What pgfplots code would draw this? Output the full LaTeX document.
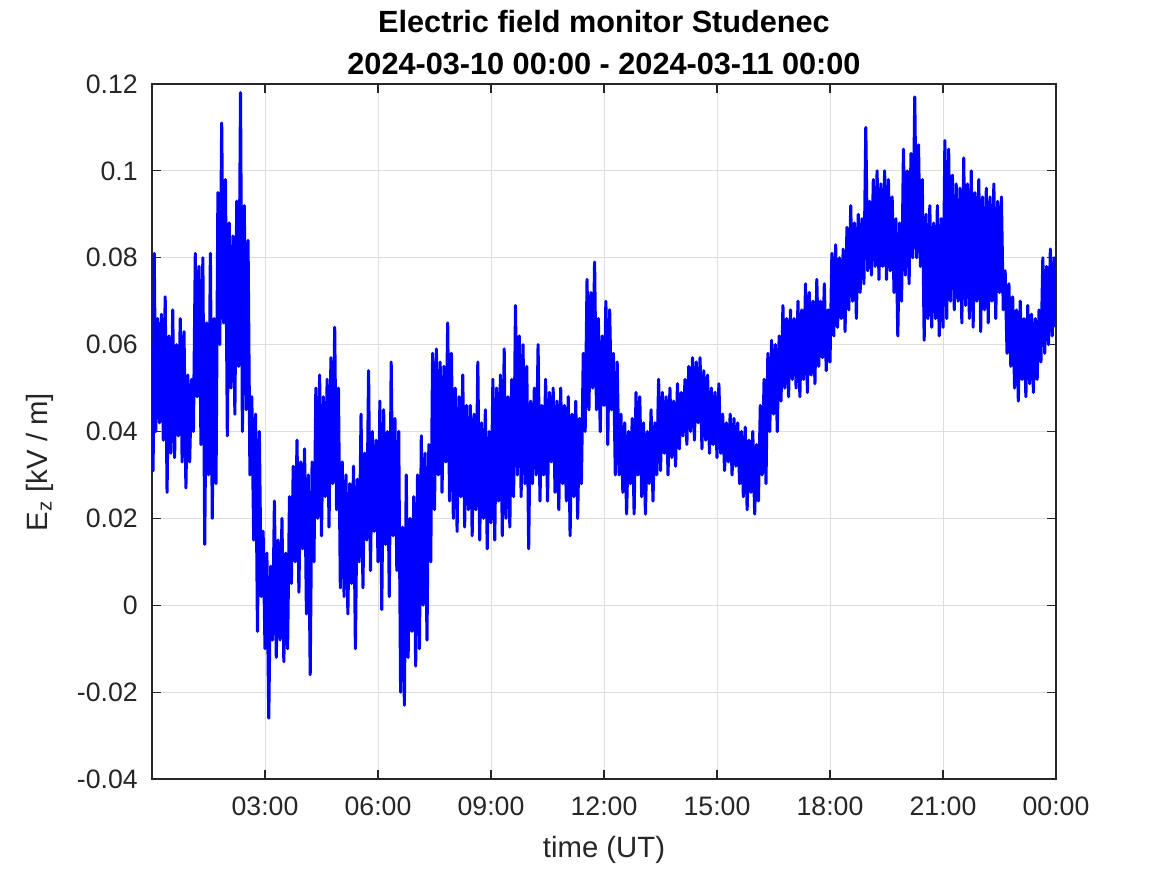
\documentclass[border=0pt]{standalone}
\usepackage{pgfplots}
\pgfplotsset{compat=1.18}
\usepackage{fontspec}
\setmainfont{Liberation Sans}
\definecolor{gridc}{rgb}{0.87,0.87,0.87}
\definecolor{axc}{rgb}{0.15,0.15,0.15}
\pgfplotstableread{
h v
0.00 0.055
0.03 0.031
0.06 0.081
0.10 0.040
0.15 0.066
0.20 0.042
0.25 0.067
0.30 0.038
0.35 0.071
0.40 0.026
0.45 0.062
0.50 0.035
0.55 0.068
0.60 0.034
0.65 0.060
0.70 0.039
0.75 0.066
0.80 0.033
0.85 0.063
0.90 0.027
0.95 0.053
1.00 0.033
1.05 0.052
1.10 0.040
1.15 0.081
1.20 0.048
1.25 0.078
1.30 0.037
1.35 0.080
1.40 0.014
1.45 0.065
1.50 0.030
1.55 0.081
1.60 0.020
1.65 0.066
1.70 0.028
1.75 0.095
1.80 0.060
1.85 0.111
1.90 0.065
1.95 0.098
2.00 0.039
2.05 0.088
2.10 0.050
2.15 0.085
2.20 0.044
2.25 0.093
2.30 0.055
2.35 0.118
2.40 0.040
2.45 0.092
2.50 0.045
2.55 0.084
2.60 0.030
2.65 0.048
2.70 0.015
2.75 0.044
2.80 -0.006
2.85 0.040
2.90 0.002
2.95 0.017
3.00 -0.010
3.05 0.012
3.10 -0.026
3.15 0.009
3.20 -0.008
3.25 0.024
3.30 -0.012
3.35 0.015
3.40 -0.008
3.45 0.020
3.50 -0.013
3.55 0.012
3.60 -0.010
3.65 0.025
3.70 0.005
3.75 0.032
3.80 0.010
3.85 0.038
3.90 0.003
3.95 0.033
4.00 0.013
4.05 0.036
4.10 -0.002
4.15 0.030
4.20 -0.016
4.25 0.033
4.30 0.010
4.35 0.050
4.40 0.020
4.45 0.053
4.50 0.016
4.55 0.048
4.60 0.025
4.65 0.052
4.70 0.018
4.75 0.057
4.80 0.028
4.85 0.064
4.90 0.022
4.95 0.050
5.00 0.004
5.05 0.033
5.10 0.002
5.15 0.030
5.20 -0.002
5.25 0.028
5.30 0.005
5.35 0.032
5.40 -0.010
5.45 0.029
5.50 0.010
5.55 0.044
5.60 0.004
5.65 0.035
5.70 0.015
5.75 0.054
5.80 0.008
5.85 0.040
5.90 0.017
5.95 0.038
6.00 0.010
6.05 0.047
6.10 -0.001
6.15 0.045
6.20 0.014
6.25 0.040
6.30 0.002
6.35 0.056
6.40 0.016
6.45 0.043
6.50 0.008
6.55 0.040
6.60 -0.020
6.65 0.018
6.70 -0.023
6.75 0.030
6.80 -0.012
6.85 0.020
6.90 -0.006
6.95 0.025
7.00 -0.014
7.05 0.030
7.10 -0.010
7.15 0.039
7.20 0.000
7.25 0.035
7.30 -0.008
7.35 0.037
7.40 0.010
7.45 0.058
7.50 0.022
7.55 0.059
7.60 0.030
7.65 0.056
7.70 0.026
7.75 0.055
7.80 0.033
7.85 0.065
7.90 0.024
7.95 0.058
8.00 0.020
8.05 0.050
8.10 0.017
8.15 0.048
8.20 0.025
8.25 0.053
8.30 0.018
8.35 0.046
8.40 0.022
8.45 0.046
8.50 0.016
8.55 0.044
8.60 0.022
8.65 0.056
8.70 0.015
8.75 0.042
8.80 0.020
8.85 0.045
8.90 0.013
8.95 0.040
9.00 0.019
9.05 0.052
9.10 0.015
9.15 0.050
9.20 0.024
9.25 0.053
9.30 0.016
9.35 0.059
9.40 0.020
9.45 0.048
9.50 0.018
9.55 0.052
9.60 0.025
9.65 0.069
9.70 0.030
9.75 0.062
9.80 0.025
9.85 0.060
9.90 0.028
9.95 0.055
10.00 0.013
10.05 0.047
10.10 0.028
10.15 0.050
10.20 0.030
10.25 0.060
10.30 0.024
10.35 0.046
10.40 0.030
10.45 0.052
10.50 0.024
10.55 0.049
10.60 0.033
10.65 0.050
10.70 0.026
10.75 0.047
10.80 0.022
10.85 0.050
10.90 0.028
10.95 0.046
11.00 0.024
11.05 0.048
11.10 0.016
11.15 0.044
11.20 0.025
11.25 0.047
11.30 0.020
11.35 0.043
11.40 0.028
11.45 0.058
11.50 0.040
11.55 0.075
11.60 0.045
11.65 0.072
11.70 0.050
11.75 0.079
11.80 0.045
11.85 0.066
11.90 0.040
11.95 0.062
12.00 0.046
12.05 0.070
12.10 0.037
12.15 0.068
12.20 0.045
12.25 0.058
12.30 0.030
12.35 0.056
12.40 0.030
12.45 0.044
12.50 0.026
12.55 0.042
12.60 0.021
12.65 0.040
12.70 0.028
12.75 0.043
12.80 0.021
12.85 0.049
12.90 0.030
12.95 0.048
13.00 0.025
13.05 0.042
13.10 0.021
13.15 0.040
13.20 0.028
13.25 0.045
13.30 0.024
13.35 0.042
13.40 0.030
13.45 0.052
13.50 0.031
13.55 0.049
13.60 0.035
13.65 0.048
13.70 0.030
13.75 0.050
13.80 0.034
13.85 0.047
13.90 0.032
13.95 0.051
14.00 0.036
14.05 0.049
14.10 0.039
14.15 0.052
14.20 0.037
14.25 0.055
14.30 0.040
14.35 0.057
14.40 0.038
14.45 0.056
14.50 0.042
14.55 0.057
14.60 0.036
14.65 0.054
14.70 0.038
14.75 0.053
14.80 0.035
14.85 0.050
14.90 0.037
14.95 0.049
15.00 0.034
15.05 0.051
15.10 0.035
15.15 0.044
15.20 0.031
15.25 0.042
15.30 0.033
15.35 0.044
15.40 0.030
15.45 0.043
15.50 0.032
15.55 0.042
15.60 0.028
15.65 0.040
15.70 0.025
15.75 0.041
15.80 0.022
15.85 0.038
15.90 0.026
15.95 0.040
16.00 0.021
16.05 0.037
16.10 0.024
16.15 0.046
16.20 0.030
16.25 0.052
16.30 0.028
16.35 0.058
16.40 0.040
16.45 0.061
16.50 0.044
16.55 0.060
16.60 0.040
16.65 0.062
16.70 0.047
16.75 0.069
16.80 0.050
16.85 0.066
16.90 0.048
16.95 0.068
17.00 0.052
17.05 0.066
17.10 0.050
17.15 0.070
17.20 0.048
17.25 0.068
17.30 0.052
17.35 0.074
17.40 0.049
17.45 0.072
17.50 0.053
17.55 0.070
17.60 0.051
17.65 0.075
17.70 0.055
17.75 0.070
17.80 0.057
17.85 0.074
17.90 0.054
17.95 0.068
18.00 0.056
18.05 0.081
18.10 0.062
18.15 0.083
18.20 0.064
18.25 0.080
18.30 0.066
18.35 0.082
18.40 0.063
18.45 0.087
18.50 0.068
18.55 0.092
18.60 0.070
18.65 0.088
18.70 0.066
18.75 0.090
18.80 0.072
18.85 0.089
18.90 0.074
18.95 0.110
19.00 0.077
19.05 0.093
19.10 0.076
19.15 0.098
19.20 0.078
19.25 0.100
19.30 0.075
19.35 0.097
19.40 0.078
19.45 0.100
19.50 0.075
19.55 0.098
19.60 0.077
19.65 0.094
19.70 0.072
19.75 0.089
19.80 0.062
19.85 0.088
19.90 0.070
19.95 0.105
20.00 0.076
20.05 0.100
20.10 0.074
20.15 0.104
20.20 0.080
20.25 0.117
20.30 0.080
20.35 0.106
20.40 0.078
20.45 0.098
20.50 0.061
20.55 0.090
20.60 0.066
20.65 0.092
20.70 0.064
20.75 0.088
20.80 0.066
20.85 0.092
20.90 0.062
20.95 0.089
21.00 0.064
21.05 0.107
21.10 0.066
21.15 0.105
21.20 0.070
21.25 0.099
21.30 0.068
21.35 0.097
21.40 0.070
21.45 0.096
21.50 0.065
21.55 0.103
21.60 0.069
21.65 0.097
21.70 0.066
21.75 0.100
21.80 0.064
21.85 0.095
21.90 0.070
21.95 0.098
22.00 0.063
22.05 0.094
22.10 0.068
22.15 0.096
22.20 0.065
22.25 0.094
22.30 0.070
22.35 0.097
22.40 0.066
22.45 0.093
22.50 0.072
22.55 0.094
22.60 0.068
22.65 0.077
22.70 0.058
22.75 0.074
22.80 0.055
22.85 0.071
22.90 0.050
22.95 0.068
23.00 0.047
23.05 0.070
23.10 0.052
23.15 0.066
23.20 0.048
23.25 0.069
23.30 0.051
23.35 0.067
23.40 0.049
23.45 0.066
23.50 0.052
23.55 0.068
23.60 0.056
23.65 0.080
23.70 0.058
23.75 0.078
23.80 0.060
23.85 0.082
23.90 0.062
23.95 0.080
24.00 0.064
}\efield
\begin{document}
\begin{tikzpicture}
\useasboundingbox (-114pt,-72pt) rectangle (761.25pt,584.25pt);
\begin{axis}[
  at={(0pt,0pt)}, anchor=south west,
  scale only axis, width=678pt, height=521.25pt,
  xmin=0, xmax=24, ymin=-0.04, ymax=0.12,
  xtick={3,6,9,12,15,18,21,24},
  xticklabels={03:00,06:00,09:00,12:00,15:00,18:00,21:00,00:00},
  ytick={-0.04,-0.02,0,0.02,0.04,0.06,0.08,0.1,0.12},
  yticklabels={-0.04,-0.02,0,0.02,0.04,0.06,0.08,0.1,0.12},
  grid=major,
  major grid style={gridc, line width=0.6pt},
  axis line style={axc, line width=0.8pt},
  tick style={axc, line width=0.8pt},
  tick align=inside, major tick length=7pt,
  tick label style={font=\fontsize{20}{24}\selectfont, text=axc},
  xticklabel style={anchor=north, inner sep=0pt, yshift=-13.5pt},
  yticklabel style={anchor=east, inner sep=0pt, xshift=-10.5pt},
  xlabel={time (UT)},
  ylabel={E\textsubscript{z} [kV / m]},
  label style={font=\fontsize{22}{26}\selectfont, text=axc},
  xlabel style={at={(axis description cs:0.5,-0.102)}, anchor=center},
  ylabel style={at={(axis description cs:-0.124,0.456)}, anchor=center, rotate=0},
  title={Electric field monitor Studenec\\2024-03-10 00:00 - 2024-03-11 00:00},
  title style={font=\bfseries\fontsize{23}{31.5}\selectfont, align=center, at={(axis description cs:0.5,1)}, anchor=south, inner sep=0pt, yshift=1pt},
  clip=true,
]
\addplot[color={rgb,1:red,0;green,0;blue,1}, line width=2.3pt, line join=round] table[x=h,y=v] {\efield};
\end{axis}
\end{tikzpicture}
\end{document}
